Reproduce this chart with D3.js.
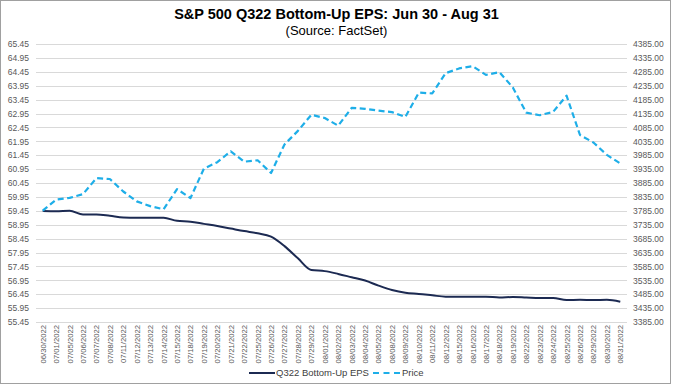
<!DOCTYPE html>
<html>
<head>
<meta charset="utf-8">
<script src="https://cdn.jsdelivr.net/npm/d3@7"></script>
<style>
  body { margin: 0; background: #fff; }
  svg { display: block; font-family: "Liberation Sans", Arial, sans-serif; }
</style>
</head>
<body>
<svg id="chart" width="673" height="386"></svg>
<script>
const dates = ['06/30/2022', '07/01/2022', '07/05/2022', '07/06/2022', '07/07/2022', '07/08/2022',
  '07/11/2022', '07/12/2022', '07/13/2022', '07/14/2022', '07/15/2022', '07/18/2022', '07/19/2022',
  '07/20/2022', '07/21/2022', '07/22/2022', '07/25/2022', '07/26/2022', '07/27/2022', '07/28/2022',
  '07/29/2022', '08/01/2022', '08/02/2022', '08/03/2022', '08/04/2022', '08/05/2022', '08/08/2022',
  '08/09/2022', '08/10/2022', '08/11/2022', '08/12/2022', '08/15/2022', '08/16/2022', '08/17/2022',
  '08/18/2022', '08/19/2022', '08/22/2022', '08/23/2022', '08/24/2022', '08/25/2022', '08/26/2022',
  '08/29/2022', '08/30/2022', '08/31/2022'];

const eps = [59.44, 59.43, 59.45, 59.32, 59.32, 59.27, 59.21, 59.20, 59.20, 59.20, 59.09,
  59.06, 58.98, 58.90, 58.81, 58.72, 58.64, 58.52, 58.18, 57.74, 57.32, 57.28, 57.18,
  57.06, 56.94, 56.76, 56.60, 56.50, 56.46, 56.41, 56.36, 56.36, 56.36, 56.36, 56.33,
  56.35, 56.33, 56.31, 56.31, 56.24, 56.25, 56.24, 56.25, 56.18];

const price = [3785.38, 3825.33, 3831.39, 3845.08, 3902.62, 3899.38, 3854.43, 3818.80,
  3801.78, 3790.38, 3863.16, 3830.85, 3936.69, 3959.90, 3998.95, 3961.63, 3966.84,
  3921.05, 4023.61, 4072.43, 4130.29, 4118.63, 4091.19, 4155.17, 4151.94, 4145.19,
  4140.06, 4122.47, 4210.24, 4207.27, 4280.15, 4297.14, 4305.20, 4274.04, 4283.74,
  4228.48, 4137.99, 4128.73, 4140.77, 4199.12, 4057.66, 4030.61, 3986.16, 3955.00];

const leftTicks = d3.range(0, 21).map(i => 55.45 + i * 0.5);
const rightTicks = d3.range(0, 21).map(i => 3385 + i * 50);

const title = 'S&P 500 Q322 Bottom-Up EPS: Jun 30 - Aug 31';
const subtitle = '(Source: FactSet)';
const seriesNames = ['Q322 Bottom-Up EPS', 'Price'];

const epsColor = '#1c2a52';
const priceColor = '#1eaee8';

const svg = d3.select('#chart');
const W = 673, H = 386;
const plot = {left: 36, right: 627, top: 44, bottom: 322};

svg.append('rect')
  .attr('x', 0.5).attr('y', 0.5)
  .attr('width', W - 3).attr('height', H - 3)
  .attr('fill', '#fff').attr('stroke', '#a0a0a0');

const x = d3.scalePoint().domain(dates).range([plot.left, plot.right]).padding(0.5);
const yL = d3.scaleLinear().domain([55.45, 65.45]).range([plot.bottom, plot.top]);
const yR = d3.scaleLinear().domain([3385, 4385]).range([plot.bottom, plot.top]);

// grid
svg.append('g')
  .selectAll('line')
  .data(leftTicks)
  .enter()
  .append('line')
  .attr('x1', plot.left).attr('x2', plot.right)
  .attr('y1', d => Math.round(yL(d)) + 0.5).attr('y2', d => Math.round(yL(d)) + 0.5)
  .attr('stroke', '#d9d9d9').attr('stroke-width', 1);

// left axis
const leftAxis = svg.append('g')
  .attr('transform', `translate(${plot.left - 7},0)`)
  .call(d3.axisLeft(yL).tickValues(leftTicks).tickFormat(d3.format('.2f')).tickSize(0).tickPadding(0));
leftAxis.select('.domain').remove();
leftAxis.selectAll('text').attr('fill', '#595959').style('font-size', '8.5px');

// right axis
const rightAxis = svg.append('g')
  .attr('transform', `translate(${plot.right + 6},0)`)
  .call(d3.axisRight(yR).tickValues(rightTicks).tickFormat(d3.format('.2f')).tickSize(0).tickPadding(0));
rightAxis.select('.domain').remove();
rightAxis.selectAll('text').attr('fill', '#595959').style('font-size', '8.5px');

// bottom axis
const bottomAxis = svg.append('g')
  .attr('transform', `translate(0,${plot.bottom + 3})`)
  .call(d3.axisBottom(x).tickSize(0).tickPadding(0));
bottomAxis.select('.domain').remove();
bottomAxis.selectAll('text')
  .attr('fill', '#595959')
  .style('font-size', '7.7px')
  .attr('text-anchor', 'end')
  .attr('dy', '0.32em')
  .attr('transform', 'rotate(-90)')
  .attr('x', 0).attr('y', 0);

// lines
const epsLine = d3.line()
  .x((d, i) => x(dates[i]))
  .y(d => yL(d))
  .curve(d3.curveMonotoneX);
const priceLine = d3.line()
  .x((d, i) => x(dates[i]))
  .y(d => yR(d));

svg.append('path')
  .datum(eps)
  .attr('d', epsLine)
  .attr('fill', 'none')
  .attr('stroke', epsColor)
  .attr('stroke-width', 2);

svg.append('path')
  .datum(price)
  .attr('d', priceLine)
  .attr('fill', 'none')
  .attr('stroke', priceColor)
  .attr('stroke-width', 2.2)
  .attr('stroke-dasharray', '6,3.5')
  .attr('stroke-linejoin', 'round');

// titles
svg.append('text')
  .attr('x', W / 2).attr('y', 19)
  .attr('text-anchor', 'middle')
  .style('font-size', '14.5px').style('font-weight', 'bold')
  .attr('fill', '#000')
  .text(title);
svg.append('text')
  .attr('x', W / 2).attr('y', 35)
  .attr('text-anchor', 'middle')
  .style('font-size', '13px')
  .attr('fill', '#000')
  .text(subtitle);

// legend
const legend = svg.append('g').attr('transform', 'translate(249,373)');
legend.append('line')
  .attr('x1', 0).attr('x2', 26).attr('y1', 0).attr('y2', 0)
  .attr('stroke', epsColor).attr('stroke-width', 2);
legend.append('text')
  .attr('x', 27).attr('y', 0).attr('dy', '0.35em')
  .style('font-size', '9.5px').attr('fill', '#404040')
  .text(seriesNames[0]);
legend.append('line')
  .attr('x1', 124).attr('x2', 151).attr('y1', 0).attr('y2', 0)
  .attr('stroke', priceColor).attr('stroke-width', 2.2)
  .attr('stroke-dasharray', '6,4.5');
legend.append('text')
  .attr('x', 153).attr('y', 0).attr('dy', '0.35em')
  .style('font-size', '9.5px').attr('fill', '#404040')
  .text(seriesNames[1]);
</script>
</body>
</html>
